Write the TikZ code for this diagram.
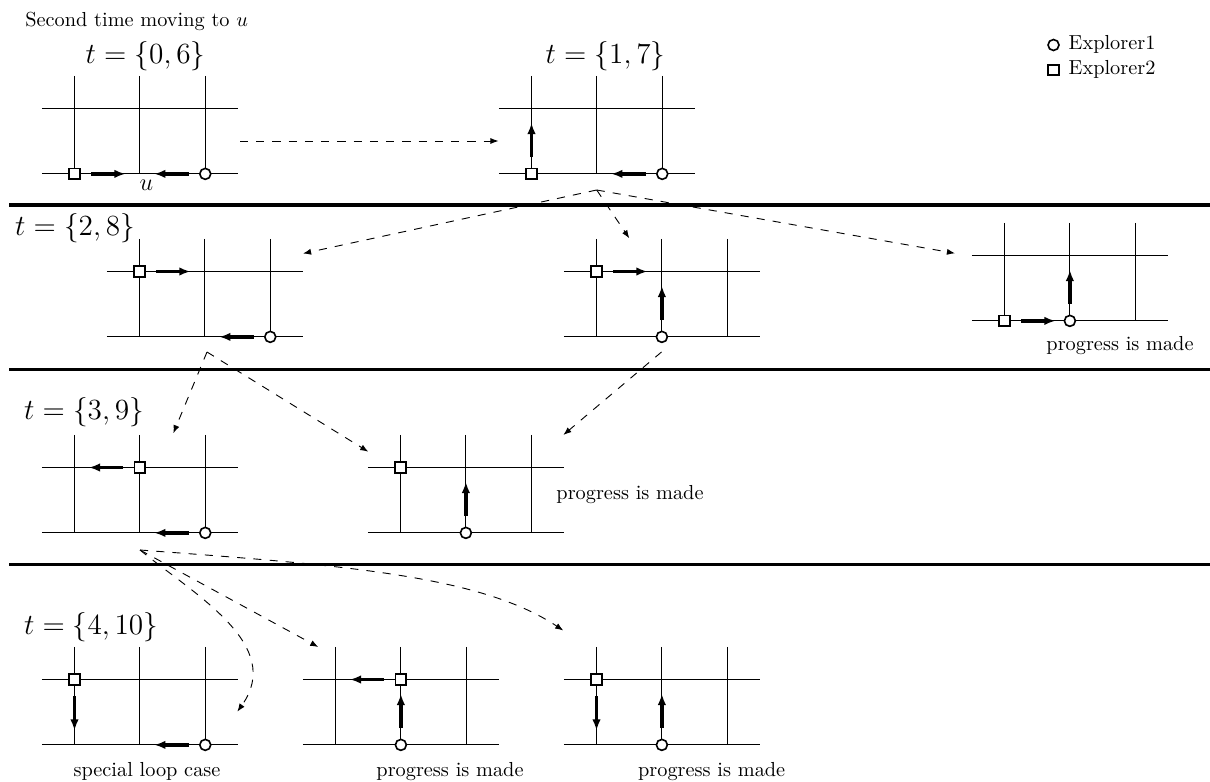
\documentclass[tikz,border=0pt]{standalone}
\usetikzlibrary{arrows.meta,calc}
\newcommand\gu{32.2pt}
\tikzset{
  gridline/.style={line width=0.4925pt},
  move/.style={line width=1.7pt,-{Latex[length=5.5pt,width=4.2pt]}},
  flow/.style={line width=0.45pt,dash pattern=on 4pt off 4pt,-{Latex[length=4pt,width=3pt]}},
  sepline/.style={line width=1.6pt},
  sqr/.style={rectangle,draw,line width=0.8pt,fill=white,minimum size=5.2pt,inner sep=0pt},
  crc/.style={circle,draw,line width=0.8pt,fill=white,minimum size=5.4pt,inner sep=0pt},
  tlab/.style={font=\Large},
  note/.style={inner sep=0pt,anchor=base},
}
\newcommand\gridat[3]{%
  \begin{scope}[shift={(#2,#3)},x=\gu,y=-\gu]
    \coordinate (#1) at (0,0);
    \draw[gridline] (-0.5,0) -- (2.5,0) (-0.5,1) -- (2.5,1)
      (0,-0.5) -- (0,1) (1,-0.5) -- (1,1) (2,-0.5) -- (2,1);
  \end{scope}}
\newcommand\agent[7]{%
  \begin{scope}[shift={(#3)},x=\gu,y=-\gu]
    \node[#1] (#2) at (#4,#5) {};
    \draw[move] ({#4+0.255*(#6)},{#5+0.255*(#7)}) -- ({#4+0.78*(#6)},{#5+0.78*(#7)});
  \end{scope}}
\begin{document}
\begin{tikzpicture}[x=0.4925pt,y=-0.4925pt]
\useasboundingbox (0,0) rectangle (1210,782);

% separators
\coordinate (s1l) at (9,205);   \coordinate (s1r) at (1210,205);
\coordinate (s2l) at (9,369.3); \coordinate (s2r) at (1210,369.3);
\coordinate (s3l) at (9,564.5); \coordinate (s3r) at (1210,564.5);
\draw[sepline] (s1l) -- (s1r);
\draw[sepline] (s2l) -- (s2r);
\draw[sepline] (s3l) -- (s3r);

% title and legend
\node[note,anchor=base west] (title) at (25,26.7) {Second time moving to $u$};
\node[crc] (leg1) at (1053.5,45) {};
\node[note,anchor=base west] (leg1t) at (1068.3,49.3) {Explorer1};
\node[sqr] (leg2) at (1053.5,70) {};
\node[note,anchor=base west] (leg2t) at (1068.3,74.5) {Explorer2};

% time labels
\node[tlab] (t0) at (145.5,56) {$t=\{0,6\}$};
\node[tlab] (t1) at (605.5,56) {$t=\{1,7\}$};
\node[tlab] (t2) at (75,228) {$t=\{2,8\}$};
\node[tlab] (t3) at (84,412.5) {$t=\{3,9\}$};
\node[tlab] (t4) at (91,626.7) {$t=\{4,10\}$};

% row 1
\gridat{gP1}{74.5}{108.5}
\agent{sqr}{P1s}{gP1}{0}{1}{1}{0}
\agent{crc}{P1c}{gP1}{2}{1}{-1}{0}
\node[font=\large] (ulab) at (146.3,185) {$u$};

\gridat{gP2}{531.5}{108.5}
\agent{sqr}{P2s}{gP2}{0}{1}{0}{-1}
\agent{crc}{P2c}{gP2}{2}{1}{-1}{0}

% row 2
\gridat{gA}{139.5}{271.5}
\agent{sqr}{As}{gA}{0}{0}{1}{0}
\agent{crc}{Ac}{gA}{2}{1}{-1}{0}

\gridat{gB}{596.5}{271.5}
\agent{sqr}{Bs}{gB}{0}{0}{1}{0}
\agent{crc}{Bc}{gB}{1}{1}{0}{-1}

\gridat{gC}{1004.5}{255.5}
\agent{sqr}{Cs}{gC}{0}{1}{1}{0}
\agent{crc}{Cc}{gC}{1}{1}{0}{-1}
\node[note] (Cnote) at (1120,350.5) {progress is made};

% row 3
\gridat{gD}{74.5}{467.5}
\agent{sqr}{Ds}{gD}{1}{0}{-1}{0}
\agent{crc}{Dc}{gD}{2}{1}{-1}{0}

\gridat{gE}{400.5}{467.5}
\node[sqr] (Es) at (400.5,467.5) {};
\agent{crc}{Ec}{gE}{1}{1}{0}{-1}
\node[note] (Enote) at (630,499) {progress is made};

% row 4
\gridat{gF}{74.5}{679.5}
\agent{sqr}{Fs}{gF}{0}{0}{0}{1}
\agent{crc}{Fc}{gF}{2}{1}{-1}{0}
\node[note] (Fnote) at (147,776) {special loop case};

\gridat{gG}{335.5}{679.5}
\agent{sqr}{Gs}{gG}{1}{0}{-1}{0}
\agent{crc}{Gc}{gG}{1}{1}{0}{-1}
\node[note] (Gnote) at (450,776) {progress is made};

\gridat{gH}{596.5}{679.5}
\agent{sqr}{Hs}{gH}{0}{0}{0}{1}
\agent{crc}{Hc}{gH}{1}{1}{0}{-1}
\node[note] (Hnote) at (711.7,776) {progress is made};

% transition connectors
\coordinate (P1out) at (240,141);
\coordinate (P2in) at (498.5,141);
\coordinate (P2out) at (596.7,190);
\coordinate (Ain) at (303,253.5);
\coordinate (Bin) at (629.3,238.3);
\coordinate (Cin) at (955,253.3);
\coordinate (Aout) at (207,352);
\coordinate (Bout) at (661.5,352);
\coordinate (Din) at (173.3,433.3);
\coordinate (Ein) at (368.3,451.7);
\coordinate (Ein2) at (563.3,435);
\coordinate (Dout) at (140,550);
\coordinate (Fin) at (237.3,711.7);
\coordinate (Gin) at (318.3,647);
\coordinate (Hin) at (563.3,630.5);

\draw[flow] (P1out) -- (P2in);
\draw[flow] (P2out) -- (Ain);
\draw[flow] (P2out) -- (Bin);
\draw[flow] (P2out) -- (Cin);
\draw[flow] (Aout) -- (Din);
\draw[flow] (Aout) -- (Ein);
\draw[flow] (Bout) -- (Ein2);
\draw[flow] (Dout) .. controls (195,595) and (285,645) .. (Fin);
\draw[flow] (Dout) -- (Gin);
\draw[flow] (Dout) .. controls (340,565) and (480,575) .. (Hin);
\end{tikzpicture}
\end{document}
